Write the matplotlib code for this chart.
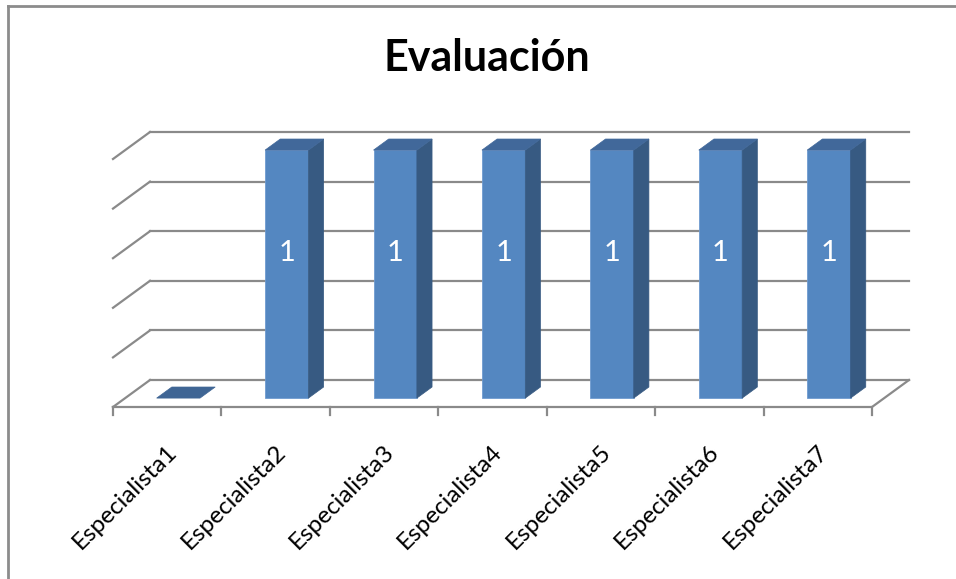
import matplotlib
matplotlib.use("Agg")
import matplotlib.pyplot as plt
from matplotlib.patches import Polygon
from matplotlib.lines import Line2D

# ---- data ----
title = "Evaluación"
categories = ["Especialista1", "Especialista2", "Especialista3", "Especialista4",
              "Especialista5", "Especialista6", "Especialista7"]
values = [0, 1, 1, 1, 1, 1, 1]
value_ticks = [0, 0.2, 0.4, 0.6, 0.8, 1.0]

# ---- layout (oblique 3-D projection in pixel space) ----
W, H = 956, 579
X0, Y0 = 113, 407          # front-left corner of the floor
CAT_W = (872 - 113) / 7    # width of one category on the front edge
DX, DY = 37, -27           # depth vector (front -> back wall)
VAL_PX = 248               # pixels per value unit
BAR_C0, BAR_C1 = 0.29, 0.69
BAR_D0, BAR_D1 = 0.33, 0.74

C_FRONT = "#5487c1"
C_SIDE = "#375a82"
C_TOP = "#41689a"
C_FLAT = "#3f6594"
C_GRID = "#8a8a8a"

FONT = ["Lato", "DejaVu Sans"]


def proj(c, v, d):
    return (X0 + c * CAT_W + d * DX, Y0 - v * VAL_PX + d * DY)


fig = plt.figure(figsize=(W / 100, H / 100), dpi=100)
ax = fig.add_axes([0, 0, 1, 1])
ax.set_xlim(0, W)
ax.set_ylim(H, 0)
ax.axis("off")

n = len(categories)

# walls / gridlines
for t in value_ticks:
    p0, p1 = proj(0, t, 1), proj(n, t, 1)
    ax.add_line(Line2D([p0[0], p1[0]], [p0[1], p1[1]], color=C_GRID, lw=1.6, zorder=1))
    q0, q1 = proj(0, t, 0), proj(0, t, 1)
    ax.add_line(Line2D([q0[0], q1[0]], [q0[1], q1[1]], color=C_GRID, lw=1.6, zorder=1))

# floor front and right edges
f0, f1, f2 = proj(0, 0, 0), proj(n, 0, 0), proj(n, 0, 1)
ax.add_line(Line2D([f0[0], f1[0], f2[0]], [f0[1], f1[1], f2[1]], color=C_GRID, lw=1.6, zorder=1))

# category tick marks
for k in range(n + 1):
    p = proj(k, 0, 0)
    ax.add_line(Line2D([p[0], p[0]], [p[1], p[1] + 8], color=C_GRID, lw=1.6, zorder=1))

# bars
for i, v in enumerate(values):
    c0, c1 = i + BAR_C0, i + BAR_C1
    top = [proj(c0, v, BAR_D0), proj(c1, v, BAR_D0), proj(c1, v, BAR_D1), proj(c0, v, BAR_D1)]
    if v > 0:
        front = [proj(c0, 0, BAR_D0), proj(c1, 0, BAR_D0), proj(c1, v, BAR_D0), proj(c0, v, BAR_D0)]
        side = [proj(c1, 0, BAR_D0), proj(c1, 0, BAR_D1), proj(c1, v, BAR_D1), proj(c1, v, BAR_D0)]
        ax.add_patch(Polygon(front, closed=True, facecolor=C_FRONT, edgecolor="#6f9bd0", lw=0.6, zorder=3))
        ax.add_patch(Polygon(side, closed=True, facecolor=C_SIDE, edgecolor=C_SIDE, lw=0.5, zorder=3))
        ax.add_patch(Polygon(top, closed=True, facecolor=C_TOP, edgecolor=C_TOP, lw=0.5, zorder=3))
        lx, ly = proj(i + (BAR_C0 + BAR_C1) / 2, v * 0.6, BAR_D0)
        ax.text(lx, 253, f"{v:g}", color="white", fontsize=21, ha="center", va="center",
                family=FONT, zorder=4)
    else:
        ax.add_patch(Polygon(top, closed=True, facecolor=C_FLAT, edgecolor=C_FLAT, lw=0.5, zorder=3))

# category labels
for i, lab in enumerate(categories):
    p = proj(i + 0.5, 0, 0)
    ax.text(p[0] - 1, p[1] + 34, lab, rotation=45, rotation_mode="anchor",
            ha="right", va="top", fontsize=17.5, family=FONT, color="#000000")

# title
ax.text(W / 2 + 9, 58, title, fontsize=31, fontweight="bold", ha="center", va="center",
        family=FONT, color="#000000")

# chart border (top and left visible)
ax.add_line(Line2D([8, W], [6, 6], color="#8c8c8c", lw=2, zorder=5))
ax.add_line(Line2D([8, 8], [6, H], color="#8c8c8c", lw=2, zorder=5))

fig.savefig("out.png", dpi=100)
